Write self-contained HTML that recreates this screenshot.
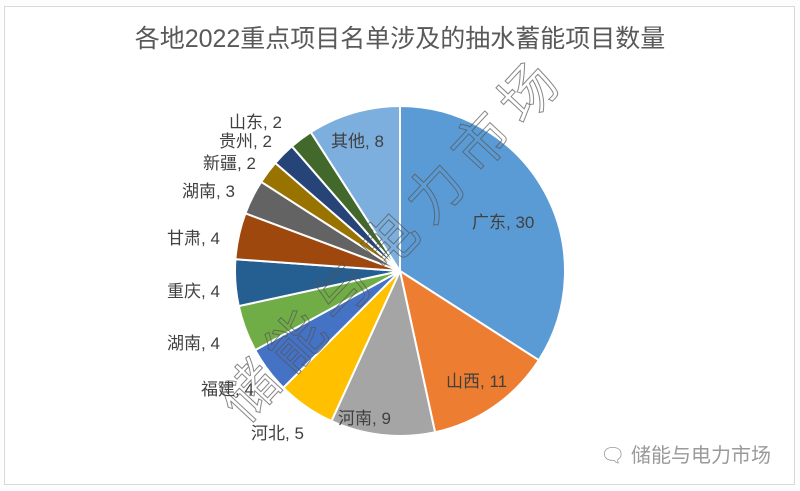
<!DOCTYPE html>
<html><head><meta charset="utf-8"><style>
body{margin:0;background:#fff;width:800px;height:491px;overflow:hidden;font-family:"Liberation Sans","Noto Sans CJK SC",sans-serif}
</style></head><body>
<svg id="s" width="800" height="491" xmlns="http://www.w3.org/2000/svg" style="position:absolute;left:0;top:0">
<rect x="0" y="0" width="800" height="491" fill="#fdfdfd"/>
<rect x="4.5" y="6.5" width="790" height="478" fill="#fff" stroke="#d9d9d9"/>
<text x="400" y="47" text-anchor="middle" font-size="25" fill="#595959" font-family="Liberation Sans,Noto Sans CJK SC,sans-serif">各地2022重点项目名单涉及的抽水蓄能项目数量</text>
<g id="pie"></g>
<g font-size="17" fill="#404040" font-family="Liberation Sans,Noto Sans CJK SC,sans-serif">
<text x="472" y="228">广东, 30</text>
<text x="446" y="387">山西, 11</text>
<text x="338" y="424">河南, 9</text>
<text x="251" y="439">河北, 5</text>
<text x="201" y="395">福建, 4</text>
<text x="167" y="349">湖南, 4</text>
<text x="167" y="297">重庆, 4</text>
<text x="167" y="244">甘肃, 4</text>
<text x="182" y="197">湖南, 3</text>
<text x="203" y="169">新疆, 2</text>
<text x="219" y="147">贵州, 2</text>
<text x="229" y="128">山东, 2</text>
<text x="331" y="147">其他, 8</text>
</g>
<text transform="translate(245,425) rotate(-47)" font-size="56" letter-spacing="12" fill="none" stroke="#555" stroke-width="1" opacity="0.7" font-family="Noto Sans CJK SC,sans-serif">储能与电力市场</text>
<text x="600" y="462" font-size="20" fill="#9a9a9a" font-family="Liberation Sans,Noto Sans CJK SC,sans-serif">🗨 储能与电力市场</text>
</svg>
<script>
var v=[30,11,9,5,4,4,4,4,3,2,2,2,8];
var c=["#5B9BD5","#ED7D31","#A5A5A5","#FFC000","#4472C4","#70AD47","#255E91","#9E480E","#636363","#997300","#264478","#43682B","#7CAFDD"];
var t=88,a=0,cx=400,cy=271,r=165,g=document.getElementById("pie"),h="";
for(var i=0;i<v.length;i++){var a2=a+v[i]/t*2*Math.PI;
var x1=cx+r*Math.sin(a),y1=cy-r*Math.cos(a),x2=cx+r*Math.sin(a2),y2=cy-r*Math.cos(a2);
h+='<path d="M'+cx+','+cy+'L'+x1+','+y1+'A'+r+','+r+' 0 '+((a2-a)>Math.PI?1:0)+' 1 '+x2+','+y2+'Z" fill="'+c[i]+'" stroke="#fff" stroke-width="2"/>';a=a2;}
g.innerHTML=h;
</script>
</body></html>
